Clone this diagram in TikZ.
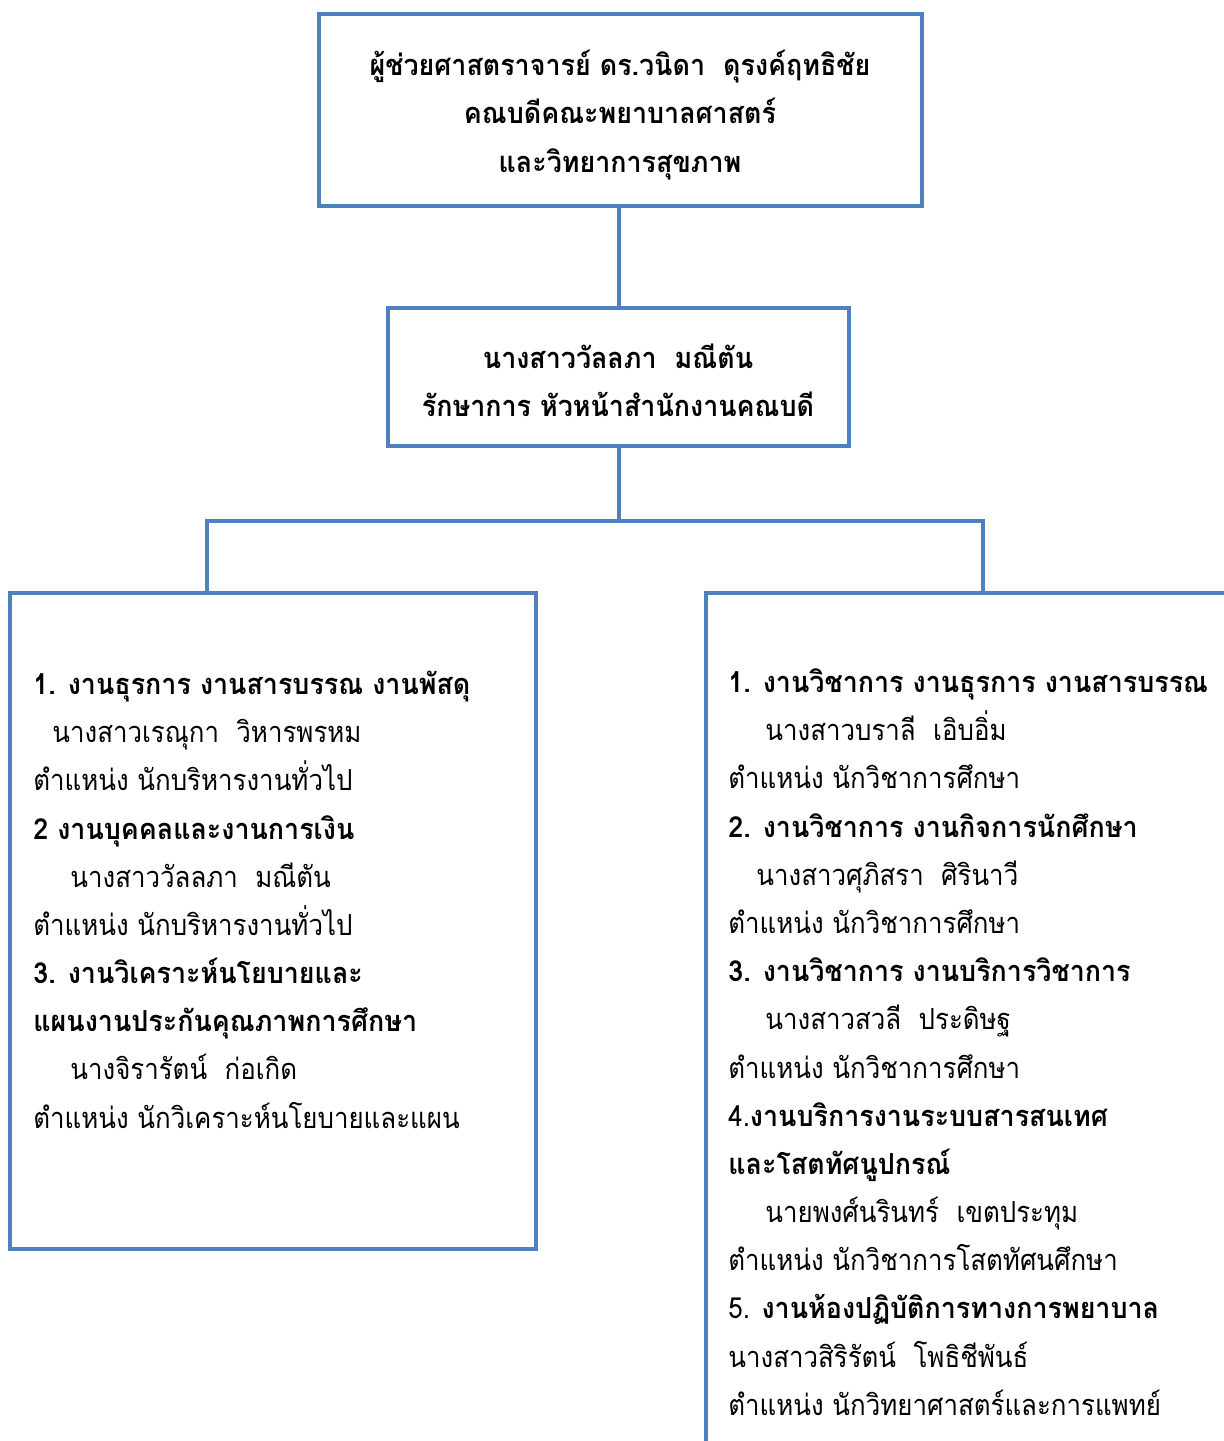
\documentclass[tikz,border=0pt]{standalone}
\usepackage{fontspec}
\newfontfamily\thai[Script=Thai,FakeStretch=0.892,BoldFeatures={FakeStretch=0.926}]{Loma}
\definecolor{obl}{HTML}{4F81BD}
\begin{document}
\begin{tikzpicture}[x=0.5pt,y=-0.5pt,
  boxline/.style={draw=obl,line width=2pt},
  conn/.style={draw=obl,line width=1.6pt},
  bar/.style={draw=obl,line width=2.4pt},
  ctext/.style={font=\thai\bfseries\fontsize{14.5}{18}\selectfont,anchor=base,inner sep=0pt},
  ltext/.style={font=\thai\fontsize{14.5}{18}\selectfont,anchor=base west,inner sep=0pt},
  btext/.style={font=\thai\bfseries\fontsize{14.5}{18}\selectfont,anchor=base west,inner sep=0pt}]
\useasboundingbox (0,0) rectangle (1224,1441);
\fill[white] (0,0) rectangle (1224,1441);
% boxes
\node[boxline,rectangle,inner sep=0pt,minimum width=301.5pt,minimum height=96pt,anchor=north west] (top) at (317,12) {};
\node[boxline,rectangle,inner sep=0pt,minimum width=230.5pt,minimum height=69pt,anchor=north west] (mid) at (386,306) {};
\node[boxline,rectangle,inner sep=0pt,minimum width=263pt,minimum height=328pt,anchor=north west] (left) at (8,591) {};
\node[boxline,rectangle,inner sep=0pt,minimum width=300pt,minimum height=460pt,anchor=north west] (right) at (704,591) {};
% connectors
\coordinate (jn) at (619,521);
\coordinate (lj) at (207,521);
\coordinate (rj) at (983,521);
\draw[conn] (jn |- top.south) -- (jn |- mid.north);
\draw[conn] (jn |- mid.south) -- (jn);
\draw[bar] ([xshift=-0.8pt]lj) -- ([xshift=0.8pt]rj);
\draw[conn] (lj) -- (lj |- left.north);
\draw[conn] (rj) -- (rj |- right.north);
% top text
\node[ctext] (t1) at (620,75) {ผู้ช่วยศาสตราจารย์ ดร.วนิดา\ \ ดุรงค์ฤทธิชัย};
\node[ctext] (t2) at (620,123) {คณบดีคณะพยาบาลศาสตร์};
\node[ctext] (t3) at (620,172) {และวิทยาการสุขภาพ};
% mid text
\node[ctext] (m1) at (618,368) {นางสาววัลลภา\ \ มณีตัน};
\node[ctext] (m2) at (618,416) {รักษาการ หัวหน้าสำนักงานคณบดี};
% left text
\node[btext] (l1) at (33,694) {1. งานธุรการ งานสารบรรณ งานพัสดุ};
\node[ltext] (l2) at (52,742) {นางสาวเรณุกา\ \ วิหารพรหม};
\node[ltext] (l3) at (33,790) {ตำแหน่ง นักบริหารงานทั่วไป};
\node[btext] (l4) at (33,839) {2 งานบุคคลและงานการเงิน};
\node[ltext] (l5) at (70,887) {นางสาววัลลภา\ \ มณีตัน};
\node[ltext] (l6) at (33,935) {ตำแหน่ง นักบริหารงานทั่วไป};
\node[btext] (l7) at (33,983) {3. งานวิเคราะห์นโยบายและ};
\node[btext] (l8) at (33,1031) {แผนงานประกันคุณภาพการศึกษา};
\node[ltext] (l9) at (70,1079) {นางจิรารัตน์\ \ ก่อเกิด};
\node[ltext] (l10) at (33,1128) {ตำแหน่ง นักวิเคราะห์นโยบายและแผน};
% right text
\node[btext] (r1) at (728,692) {1. งานวิชาการ งานธุรการ งานสารบรรณ};
\node[ltext] (r2) at (765,740) {นางสาวบราลี\ \ เอิบอิ่ม};
\node[ltext] (r3) at (728,788) {ตำแหน่ง นักวิชาการศึกษา};
\node[btext] (r4) at (728,837) {2. งานวิชาการ งานกิจการนักศึกษา};
\node[ltext] (r5) at (756,885) {นางสาวศุภิสรา\ \ ศิรินาวี};
\node[ltext] (r6) at (728,933) {ตำแหน่ง นักวิชาการศึกษา};
\node[btext] (r7) at (728,981) {3. งานวิชาการ งานบริการวิชาการ};
\node[ltext] (r8) at (765,1029) {นางสาวสวลี\ \ ประดิษฐ};
\node[ltext] (r9) at (728,1078) {ตำแหน่ง นักวิชาการศึกษา};
\node[ltext] (r10) at (728,1126) {4.{\bfseries งานบริการงานระบบสารสนเทศ}};
\node[btext] (r11) at (728,1174) {และโสตทัศนูปกรณ์};
\node[ltext] (r12) at (765,1222) {นายพงศ์นรินทร์\ \ เขตประทุม};
\node[ltext] (r13) at (728,1270) {ตำแหน่ง นักวิชาการโสตทัศนศึกษา};
\node[ltext] (r14) at (728,1318) {5. {\bfseries งานห้องปฏิบัติการทางการพยาบาล}};
\node[ltext] (r15) at (728,1367) {นางสาวสิริรัตน์\ \ โพธิชีพันธ์};
\node[ltext] (r16) at (728,1415) {ตำแหน่ง นักวิทยาศาสตร์และการแพทย์};
\end{tikzpicture}
\end{document}
